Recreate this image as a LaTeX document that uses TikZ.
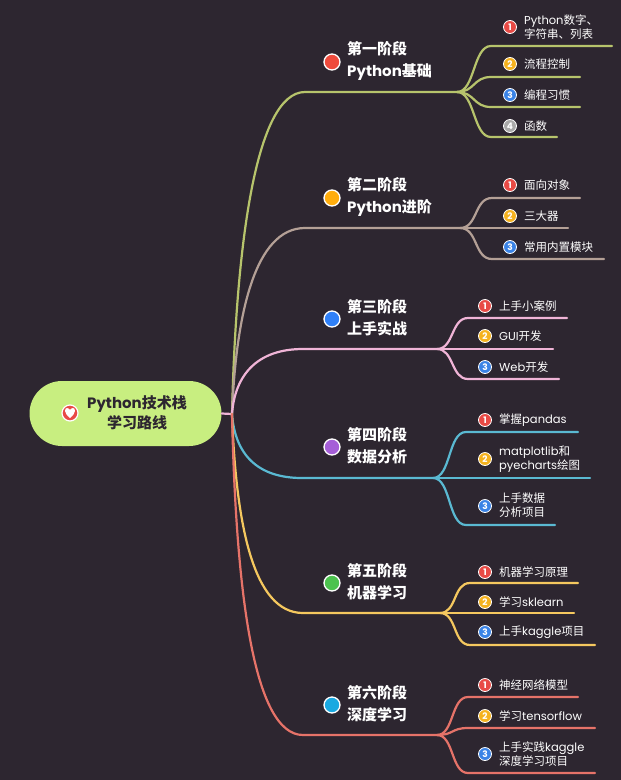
\documentclass[tikz,border=0pt]{standalone}
\usepackage{fontspec}
\setmainfont{Poppins}
\newfontfamily\cjk{Noto Sans CJK SC}
\newcommand\C[1]{{\cjk #1}}
\definecolor{bg}{HTML}{2D2630}
\definecolor{rootfill}{HTML}{C8EE80}
\definecolor{cA}{HTML}{B7C46C}
\definecolor{cB}{HTML}{B4A096}
\definecolor{cC}{HTML}{F0B4D7}
\definecolor{cD}{HTML}{5AB9D2}
\definecolor{cE}{HTML}{F5C85F}
\definecolor{cF}{HTML}{E67369}
\definecolor{dA}{HTML}{EE4A3C}
\definecolor{dB}{HTML}{FFAD0D}
\definecolor{dC}{HTML}{2F80F8}
\definecolor{dD}{HTML}{A55ED8}
\definecolor{dE}{HTML}{4CC24E}
\definecolor{dF}{HTML}{19A9E1}
\definecolor{nA}{HTML}{E84A45}
\definecolor{nB}{HTML}{F5B21E}
\definecolor{nC}{HTML}{3A83E6}
\definecolor{nD}{HTML}{A9A9A9}
\tikzset{
  br/.style={line width=2.2pt, line cap=round},
  sdot/.style={circle, minimum size=16pt, inner sep=0pt, draw=white, line width=1.3pt},
  stitle/.style={anchor=west, inner sep=0pt, text=white, align=left, font=\fontsize{15}{22}\selectfont\bfseries},
  numdot/.style={circle, minimum size=13pt, inner sep=0pt, draw=white, line width=0.8pt, text=white, font=\fontsize{9}{9}\selectfont\bfseries},
  itemtxt/.style={anchor=west, inner sep=0pt, text=white, align=left, font=\fontsize{11.5}{14}\selectfont},
}
\begin{document}
\begin{tikzpicture}[x=1pt, y=-1pt]
\path[fill=bg] (0,0) rectangle (621,780);
\useasboundingbox (0,0) rectangle (621,780);

% root
\node[fill=rootfill, rounded corners=32.5pt, minimum width=192pt, minimum height=65pt, inner sep=0pt] (root) at (125.5,413.5) {};
\node[inner sep=0pt, align=center, text=bg, font=\fontsize{15}{20}\selectfont\bfseries] (roottxt) at (137,413) {Python\C{技术栈}\\\C{学习路线}};
\node[circle, fill=nA, draw=white, line width=1.2pt, minimum size=16pt, inner sep=0pt] (heart) at (70,413) {};
\fill[white] (70,418) .. controls (64,413.5) and (64,408) .. (67,408) .. controls (68.5,408) and (69.5,409) .. (70,410) .. controls (70.5,409) and (71.5,408) .. (73,408) .. controls (76,408) and (76,413.5) .. (70,418) -- cycle;
\coordinate (hub) at (232,414);
\draw[br, cC] (root.east) -- (hub);

% ---------- stage 1
\coordinate (s1a) at (305,92); \coordinate (s1f) at (457,92);
\draw[br, cA] (hub) .. controls +(4,-165) and +(-50,0) .. (s1a) -- (s1f);
\node[sdot, fill=dA] (s1d) at (332,62) {};
\node[stitle] (s1t) at (347,61) {\C{第一阶段}\\Python\C{基础}};
\coordinate (s1i1a) at (491,46); \coordinate (s1i1b) at (612,46);
\coordinate (s1i2a) at (491,77); \coordinate (s1i2b) at (580,77);
\coordinate (s1i3a) at (491,107); \coordinate (s1i3b) at (580,107);
\coordinate (s1i4a) at (491,137); \coordinate (s1i4b) at (557,137);
\foreach \i in {1,2,3,4} \draw[br, cA] (s1f) .. controls +(18,0) and +(-18,0) .. (s1i\i a) -- (s1i\i b);
\node[numdot, fill=nA] (s1n1) at (510,27) {1};
\node[itemtxt] (s1x1) at (524,27) {Python\C{数字、}\\\C{字符串、列表}};
\node[numdot, fill=nB] (s1n2) at (510,64) {2};
\node[itemtxt] (s1x2) at (524,64) {\C{流程控制}};
\node[numdot, fill=nC] (s1n3) at (510,95) {3};
\node[itemtxt] (s1x3) at (524,95) {\C{编程习惯}};
\node[numdot, fill=nD] (s1n4) at (510,126) {4};
\node[itemtxt] (s1x4) at (524,126) {\C{函数}};

% ---------- stage 2
\coordinate (s2a) at (305,228); \coordinate (s2f) at (460,228);
\draw[br, cB] (hub) .. controls +(4,-100) and +(-50,0) .. (s2a) -- (s2f);
\node[sdot, fill=dB] (s2d) at (332,198) {};
\node[stitle] (s2t) at (347,197) {\C{第二阶段}\\Python\C{进阶}};
\coordinate (s2i1a) at (492,198); \coordinate (s2i1b) at (580,198);
\coordinate (s2i2a) at (492,228); \coordinate (s2i2b) at (568,228);
\coordinate (s2i3a) at (492,259); \coordinate (s2i3b) at (604,259);
\foreach \i in {1,2,3} \draw[br, cB] (s2f) .. controls +(18,0) and +(-18,0) .. (s2i\i a) -- (s2i\i b);
\node[numdot, fill=nA] (s2n1) at (510,185) {1};
\node[itemtxt] (s2x1) at (524,185) {\C{面向对象}};
\node[numdot, fill=nB] (s2n2) at (510,216) {2};
\node[itemtxt] (s2x2) at (524,216) {\C{三大器}};
\node[numdot, fill=nC] (s2n3) at (510,247) {3};
\node[itemtxt] (s2x3) at (524,247) {\C{常用内置模块}};

% ---------- stage 3
\coordinate (s3a) at (303,349); \coordinate (s3f) at (437,349);
\draw[br, cC] (hub) .. controls +(3,-40) and +(-45,0) .. (s3a) -- (s3f);
\node[sdot, fill=dC] (s3d) at (332,319) {};
\node[stitle] (s3t) at (347,318) {\C{第三阶段}\\\C{上手实战}};
\coordinate (s3i1a) at (468,318); \coordinate (s3i1b) at (567,318);
\coordinate (s3i2a) at (468,349); \coordinate (s3i2b) at (553,349);
\coordinate (s3i3a) at (468,379); \coordinate (s3i3b) at (559,379);
\foreach \i in {1,2,3} \draw[br, cC] (s3f) .. controls +(17,0) and +(-17,0) .. (s3i\i a) -- (s3i\i b);
\node[numdot, fill=nA] (s3n1) at (485,306) {1};
\node[itemtxt] (s3x1) at (499,306) {\C{上手小案例}};
\node[numdot, fill=nB] (s3n2) at (485,336) {2};
\node[itemtxt] (s3x2) at (499,336) {GUI\C{开发}};
\node[numdot, fill=nC] (s3n3) at (485,367) {3};
\node[itemtxt] (s3x3) at (499,367) {Web\C{开发}};

% ---------- stage 4
\coordinate (s4a) at (302,478); \coordinate (s4f) at (433,478);
\draw[br, cD] (hub) .. controls +(3,40) and +(-45,0) .. (s4a) -- (s4f);
\node[sdot, fill=dD] (s4d) at (332,447) {};
\node[stitle] (s4t) at (347,446) {\C{第四阶段}\\\C{数据分析}};
\coordinate (s4i1a) at (466,432); \coordinate (s4i1b) at (578,432);
\coordinate (s4i2a) at (466,478); \coordinate (s4i2b) at (590,478);
\coordinate (s4i3a) at (466,525); \coordinate (s4i3b) at (555,525);
\foreach \i in {1,2,3} \draw[br, cD] (s4f) .. controls +(18,0) and +(-18,0) .. (s4i\i a) -- (s4i\i b);
\node[numdot, fill=nA] (s4n1) at (485,420) {1};
\node[itemtxt] (s4x1) at (499,420) {\C{掌握}pandas};
\node[numdot, fill=nB] (s4n2) at (485,459) {2};
\node[itemtxt] (s4x2) at (499,459) {matplotlib\C{和}\\pyecharts\C{绘图}};
\node[numdot, fill=nC] (s4n3) at (485,506) {3};
\node[itemtxt] (s4x3) at (499,505) {\C{上手数据}\\\C{分析项目}};

% ---------- stage 5
\coordinate (s5a) at (303,613); \coordinate (s5f) at (440,613);
\draw[br, cE] (hub) .. controls +(4,110) and +(-50,0) .. (s5a) -- (s5f);
\node[sdot, fill=dE] (s5d) at (332,583) {};
\node[stitle] (s5t) at (347,582) {\C{第五阶段}\\\C{机器学习}};
\coordinate (s5i1a) at (470,583); \coordinate (s5i1b) at (578,583);
\coordinate (s5i2a) at (470,613); \coordinate (s5i2b) at (574,613);
\coordinate (s5i3a) at (470,645); \coordinate (s5i3b) at (595,645);
\foreach \i in {1,2,3} \draw[br, cE] (s5f) .. controls +(17,0) and +(-17,0) .. (s5i\i a) -- (s5i\i b);
\node[numdot, fill=nA] (s5n1) at (485,572) {1};
\node[itemtxt] (s5x1) at (499,572) {\C{机器学习原理}};
\node[numdot, fill=nB] (s5n2) at (485,602) {2};
\node[itemtxt] (s5x2) at (499,602) {\C{学习}sklearn};
\node[numdot, fill=nC] (s5n3) at (485,632) {3};
\node[itemtxt] (s5x3) at (499,632) {\C{上手}kaggle\C{项目}};

% ---------- stage 6
\coordinate (s6a) at (303,735); \coordinate (s6f) at (437,735);
\draw[br, cF] (hub) .. controls +(4,175) and +(-50,0) .. (s6a) -- (s6f);
\node[sdot, fill=dF] (s6d) at (332,705) {};
\node[stitle] (s6t) at (347,704) {\C{第六阶段}\\\C{深度学习}};
\coordinate (s6i1a) at (468,697); \coordinate (s6i1b) at (578,697);
\coordinate (s6i2a) at (468,728); \coordinate (s6i2b) at (595,728);
\coordinate (s6i3a) at (468,773); \coordinate (s6i3b) at (595,773);
\foreach \i in {1,2,3} \draw[br, cF] (s6f) .. controls +(17,0) and +(-17,0) .. (s6i\i a) -- (s6i\i b);
\node[numdot, fill=nA] (s6n1) at (485,685) {1};
\node[itemtxt] (s6x1) at (499,685) {\C{神经网络模型}};
\node[numdot, fill=nB] (s6n2) at (485,716) {2};
\node[itemtxt] (s6x2) at (499,716) {\C{学习}tensorflow};
\node[numdot, fill=nC] (s6n3) at (485,754) {3};
\node[itemtxt] (s6x3) at (499,754) {\C{上手实践}kaggle\\\C{深度学习项目}};
\end{tikzpicture}
\end{document}
